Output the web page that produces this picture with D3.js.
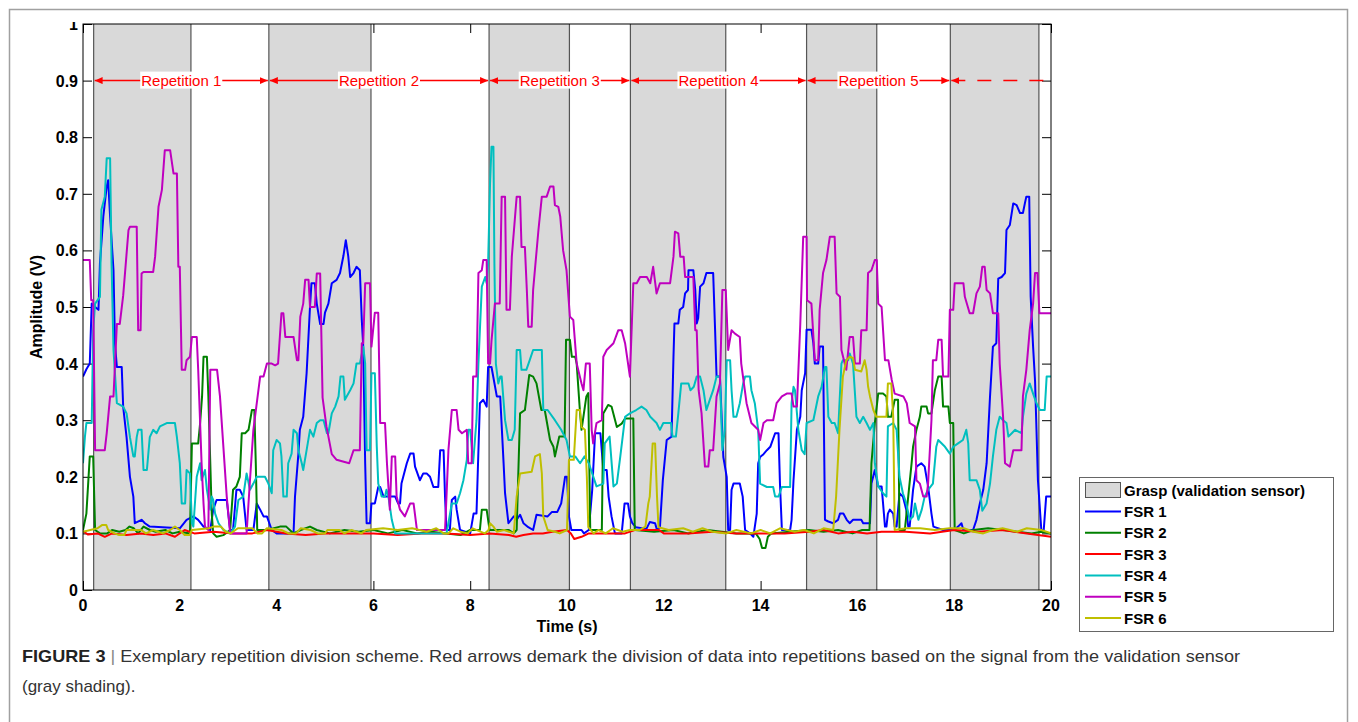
<!DOCTYPE html>
<meta charset="utf-8">
<style>
body { margin: 0; background: #fff; }
svg { display: block; font-family: "Liberation Sans", Arial, sans-serif; }
.tick-label { font-size: 16px; font-weight: bold; fill: #000; }
.axis-title { font-size: 16px; font-weight: bold; fill: #000; }
.legend text { font-size: 15px; font-weight: bold; fill: #000; }
.rep { font-size: 15px; fill: #ff0000; }
.caption { font-size: 17px; fill: #333; }
</style>
<svg width="1358" height="722"></svg>
<script src="https://cdn.jsdelivr.net/npm/d3@7"></script>
<script>

// grasp intervals (validation sensor high), seconds
var grasps = [[0.22, 2.23], [3.84, 5.95], [8.39, 10.05], [11.31, 13.28], [14.95, 16.40], [17.92, 19.75]];
var repLabels = ["Repetition 1", "Repetition 2", "Repetition 3", "Repetition 4", "Repetition 5"];
var xTicks = [0, 2, 4, 6, 8, 10, 12, 14, 16, 18, 20];
var yTicks = [0, 0.1, 0.2, 0.3, 0.4, 0.5, 0.6, 0.7, 0.8, 0.9, 1];
var seriesNames = ["FSR 1", "FSR 2", "FSR 3", "FSR 4", "FSR 5", "FSR 6"];
var seriesColors = ["#0000ff", "#008000", "#ff0000", "#00bfbf", "#bf00bf", "#bfbf00"];

var fsr1 = [[0,0.377],[0.07,0.39],[0.14,0.40],[0.18,0.506],[0.25,0.50],[0.32,0.495],[0.35,0.577],[0.42,0.66],[0.49,0.713],[0.52,0.724],[0.56,0.66],[0.63,0.565],[0.66,0.436],[0.7,0.394],[0.8,0.394],[0.83,0.324],[0.9,0.27],[0.97,0.2],[1.04,0.165],[1.07,0.118],[1.21,0.124],[1.28,0.118],[1.38,0.112],[2.0,0.109],[2.14,0.124],[2.28,0.13],[2.38,0.124],[2.49,0.112],[2.63,0.106],[2.69,0.142],[2.76,0.159],[2.97,0.159],[3.04,0.106],[3.1,0.106],[3.17,0.177],[3.24,0.177],[3.31,0.165],[3.38,0.106],[3.52,0.106],[3.59,0.153],[3.66,0.142],[3.73,0.13],[3.8,0.13],[3.9,0.106],[4.0,0.10],[4.35,0.10],[4.38,0.165],[4.45,0.24],[4.48,0.283],[4.55,0.306],[4.62,0.383],[4.69,0.5],[4.72,0.542],[4.79,0.542],[4.83,0.506],[4.9,0.47],[4.97,0.47],[5.0,0.49],[5.07,0.506],[5.14,0.542],[5.24,0.548],[5.31,0.56],[5.38,0.59],[5.43,0.618],[5.48,0.59],[5.52,0.553],[5.59,0.56],[5.65,0.571],[5.72,0.565],[5.76,0.477],[5.79,0.43],[5.83,0.224],[5.86,0.118],[5.93,0.118],[5.96,0.153],[6.03,0.153],[6.1,0.182],[6.14,0.182],[6.21,0.165],[6.45,0.165],[6.51,0.153],[6.55,0.153],[6.58,0.188],[6.69,0.224],[6.76,0.241],[6.83,0.241],[6.86,0.218],[6.96,0.194],[7.03,0.206],[7.1,0.206],[7.17,0.2],[7.24,0.182],[7.34,0.182],[7.38,0.247],[7.45,0.247],[7.48,0.165],[7.51,0.106],[7.58,0.106],[7.62,0.159],[7.69,0.165],[7.72,0.142],[7.79,0.106],[8.0,0.10],[8.07,0.135],[8.13,0.135],[8.2,0.33],[8.27,0.336],[8.34,0.324],[8.37,0.394],[8.44,0.394],[8.55,0.342],[8.62,0.342],[8.69,0.224],[8.72,0.171],[8.79,0.118],[8.9,0.13],[8.96,0.124],[9.03,0.133],[9.1,0.118],[9.2,0.111],[9.3,0.106],[9.37,0.133],[9.6,0.13],[9.69,0.138],[9.8,0.138],[9.88,0.153],[9.96,0.2],[10.0,0.2],[10.04,0.13],[10.09,0.106],[10.3,0.106],[10.35,0.1],[10.45,0.106],[10.52,0.176],[10.58,0.277],[10.69,0.277],[10.75,0.212],[10.82,0.212],[10.86,0.165],[10.92,0.13],[10.99,0.1],[11.13,0.1],[11.19,0.153],[11.26,0.153],[11.3,0.13],[11.35,0.118],[11.42,0.111],[11.64,0.108],[11.71,0.12],[11.82,0.118],[11.86,0.106],[11.92,0.111],[11.98,0.194],[12.06,0.265],[12.16,0.271],[12.2,0.412],[12.22,0.471],[12.3,0.471],[12.33,0.495],[12.4,0.5],[12.44,0.524],[12.5,0.53],[12.51,0.565],[12.61,0.565],[12.65,0.53],[12.68,0.471],[12.71,0.48],[12.75,0.536],[12.82,0.542],[12.88,0.56],[13.02,0.56],[13.06,0.459],[13.09,0.377],[13.16,0.377],[13.23,0.235],[13.3,0.2],[13.33,0.106],[13.37,0.106],[13.4,0.177],[13.44,0.188],[13.57,0.188],[13.63,0.165],[13.68,0.106],[13.78,0.1],[13.85,0.094],[13.92,0.135],[13.95,0.224],[13.99,0.235],[14.06,0.24],[14.13,0.247],[14.2,0.253],[14.3,0.277],[14.37,0.277],[14.4,0.188],[14.44,0.106],[14.61,0.106],[14.64,0.124],[14.68,0.194],[14.75,0.283],[14.82,0.306],[14.85,0.353],[14.92,0.383],[14.95,0.46],[15.05,0.46],[15.09,0.436],[15.12,0.40],[15.19,0.40],[15.22,0.43],[15.29,0.43],[15.33,0.124],[15.4,0.121],[15.5,0.118],[15.6,0.124],[15.64,0.135],[15.71,0.135],[15.78,0.124],[15.84,0.118],[15.91,0.124],[16.08,0.124],[16.12,0.118],[16.26,0.118],[16.29,0.188],[16.36,0.212],[16.43,0.183],[16.5,0.183],[16.53,0.153],[16.57,0.112],[16.6,0.112],[16.63,0.135],[16.67,0.142],[16.74,0.135],[16.77,0.112],[16.81,0.112],[16.87,0.171],[16.94,0.165],[17.01,0.142],[17.05,0.112],[17.08,0.112],[17.15,0.177],[17.22,0.218],[17.32,0.224],[17.39,0.218],[17.46,0.183],[17.53,0.135],[17.57,0.112],[17.77,0.106],[18.0,0.106],[18.08,0.112],[18.15,0.118],[18.19,0.106],[18.39,0.106],[18.46,0.124],[18.53,0.153],[18.6,0.177],[18.67,0.224],[18.74,0.342],[18.8,0.43],[18.87,0.436],[18.91,0.55],[18.98,0.553],[19.05,0.56],[19.08,0.636],[19.15,0.645],[19.22,0.683],[19.29,0.68],[19.36,0.666],[19.42,0.666],[19.46,0.683],[19.49,0.695],[19.55,0.695],[19.58,0.518],[19.63,0.43],[19.67,0.37],[19.7,0.283],[19.73,0.194],[19.8,0.106],[19.85,0.106],[19.9,0.165],[20,0.165]];

var fsr2 = [[0,0.106],[0.07,0.135],[0.14,0.236],[0.21,0.236],[0.25,0.106],[0.35,0.1],[0.5,0.1],[0.6,0.106],[0.75,0.103],[0.88,0.106],[0.96,0.112],[1.05,0.109],[1.14,0.1],[1.25,0.112],[1.38,0.106],[1.5,0.103],[1.7,0.106],[1.85,0.1],[2.0,0.103],[2.21,0.1],[2.25,0.259],[2.38,0.259],[2.42,0.295],[2.46,0.342],[2.49,0.412],[2.56,0.412],[2.59,0.342],[2.63,0.224],[2.66,0.135],[2.69,0.1],[2.76,0.094],[2.9,0.097],[3.04,0.106],[3.1,0.177],[3.17,0.183],[3.24,0.2],[3.28,0.277],[3.35,0.277],[3.42,0.283],[3.49,0.318],[3.54,0.318],[3.57,0.224],[3.6,0.106],[3.8,0.106],[4.07,0.112],[4.2,0.112],[4.35,0.1],[4.5,0.106],[4.69,0.112],[4.83,0.106],[5.1,0.1],[5.4,0.106],[5.7,0.103],[6.0,0.106],[6.3,0.1],[6.6,0.106],[6.9,0.1],[7.2,0.103],[7.5,0.1],[7.8,0.097],[8.0,0.106],[8.2,0.106],[8.24,0.142],[8.34,0.142],[8.4,0.106],[8.8,0.106],[8.9,0.1],[8.96,0.106],[9.03,0.312],[9.13,0.318],[9.22,0.38],[9.3,0.377],[9.37,0.365],[9.47,0.318],[9.54,0.318],[9.65,0.265],[9.72,0.253],[9.75,0.236],[9.84,0.271],[9.95,0.271],[9.98,0.442],[10.06,0.442],[10.1,0.412],[10.17,0.412],[10.2,0.4],[10.27,0.312],[10.3,0.283],[10.4,0.342],[10.44,0.348],[10.48,0.106],[10.72,0.106],[10.75,0.312],[10.85,0.327],[10.92,0.324],[11.03,0.288],[11.13,0.294],[11.2,0.303],[11.37,0.303],[11.4,0.106],[11.8,0.103],[12.2,0.106],[12.5,0.1],[12.9,0.106],[13.2,0.103],[13.5,0.1],[13.9,0.1],[13.98,0.09],[14.03,0.074],[14.1,0.074],[14.15,0.094],[14.22,0.1],[14.6,0.103],[15.0,0.106],[15.3,0.103],[15.6,0.106],[15.9,0.1],[16.1,0.106],[16.25,0.106],[16.29,0.224],[16.36,0.295],[16.43,0.347],[16.53,0.347],[16.6,0.342],[16.63,0.306],[16.7,0.306],[16.77,0.336],[16.84,0.336],[16.87,0.106],[16.98,0.106],[17.05,0.165],[17.12,0.224],[17.15,0.253],[17.22,0.283],[17.29,0.306],[17.32,0.324],[17.43,0.324],[17.46,0.312],[17.53,0.312],[17.6,0.353],[17.67,0.377],[17.74,0.377],[17.77,0.324],[17.88,0.324],[17.91,0.295],[17.98,0.295],[18.01,0.106],[18.2,0.1],[18.4,0.106],[18.7,0.109],[19.0,0.106],[19.3,0.103],[19.6,0.1],[19.8,0.103],[20,0.1]];

var fsr3 = [[0,0.104],[0.1,0.098],[0.3,0.1],[0.45,0.094],[0.6,0.1],[0.9,0.097],[1.2,0.1],[1.45,0.097],[1.7,0.1],[1.9,0.094],[2.1,0.106],[2.3,0.1],[2.7,0.103],[3.1,0.1],[3.5,0.1],[3.8,0.106],[4.2,0.1],[4.6,0.097],[5.0,0.1],[5.5,0.1],[6.0,0.1],[6.5,0.097],[7.0,0.1],[7.5,0.1],[8.0,0.097],[8.4,0.1],[8.8,0.097],[8.95,0.094],[9.1,0.097],[9.3,0.1],[9.5,0.1],[9.7,0.103],[10.0,0.106],[10.08,0.1],[10.15,0.09],[10.3,0.094],[10.45,0.1],[10.8,0.1],[11.2,0.1],[11.4,0.106],[11.9,0.106],[12.0,0.1],[12.5,0.1],[13.0,0.103],[13.5,0.1],[14.0,0.1],[14.5,0.1],[15.0,0.103],[15.3,0.106],[15.6,0.1],[15.9,0.103],[16.2,0.1],[16.5,0.103],[17.0,0.103],[17.5,0.1],[18.0,0.106],[18.5,0.103],[19.0,0.106],[19.5,0.1],[20,0.094]];

var fsr4 = [[0,0.224],[0.04,0.271],[0.07,0.295],[0.18,0.295],[0.21,0.459],[0.25,0.506],[0.35,0.518],[0.38,0.672],[0.45,0.695],[0.49,0.763],[0.56,0.763],[0.59,0.577],[0.63,0.424],[0.7,0.33],[0.83,0.324],[0.9,0.312],[0.97,0.27],[1.04,0.236],[1.07,0.236],[1.11,0.27],[1.14,0.283],[1.21,0.283],[1.25,0.212],[1.32,0.212],[1.38,0.27],[1.45,0.283],[1.52,0.277],[1.59,0.289],[1.73,0.295],[1.9,0.295],[1.94,0.27],[2.0,0.224],[2.04,0.153],[2.11,0.153],[2.14,0.212],[2.21,0.206],[2.25,0.118],[2.28,0.112],[2.35,0.2],[2.42,0.224],[2.45,0.194],[2.52,0.212],[2.56,0.177],[2.63,0.142],[2.66,0.165],[2.69,0.159],[2.73,0.135],[2.8,0.118],[2.9,0.106],[3.04,0.1],[3.14,0.112],[3.21,0.159],[3.31,0.165],[3.38,0.206],[3.45,0.177],[3.52,0.188],[3.59,0.2],[3.76,0.2],[3.83,0.188],[3.9,0.171],[3.93,0.247],[4.0,0.265],[4.07,0.259],[4.1,0.236],[4.14,0.165],[4.21,0.165],[4.24,0.224],[4.31,0.241],[4.35,0.283],[4.42,0.277],[4.45,0.247],[4.52,0.224],[4.55,0.212],[4.62,0.247],[4.69,0.283],[4.76,0.271],[4.83,0.295],[4.9,0.30],[4.97,0.3],[5.04,0.277],[5.07,0.277],[5.14,0.312],[5.21,0.324],[5.28,0.342],[5.32,0.377],[5.38,0.377],[5.41,0.336],[5.52,0.353],[5.59,0.365],[5.65,0.4],[5.72,0.4],[5.79,0.43],[5.83,0.4],[5.86,0.247],[5.93,0.247],[5.96,0.383],[6.03,0.383],[6.07,0.253],[6.1,0.188],[6.17,0.165],[6.24,0.165],[6.27,0.177],[6.31,0.165],[6.38,0.124],[6.45,0.1],[7.51,0.1],[7.55,0.118],[7.62,0.153],[7.72,0.153],[7.79,0.171],[7.86,0.194],[7.93,0.23],[7.96,0.283],[8.0,0.283],[8.06,0.224],[8.13,0.3],[8.17,0.4],[8.2,0.459],[8.24,0.536],[8.31,0.553],[8.34,0.542],[8.37,0.577],[8.41,0.718],[8.44,0.783],[8.48,0.783],[8.5,0.577],[8.53,0.4],[8.58,0.365],[8.62,0.377],[8.65,0.377],[8.72,0.3],[8.79,0.265],[8.86,0.265],[8.92,0.283],[8.96,0.424],[9.03,0.424],[9.06,0.389],[9.16,0.389],[9.23,0.406],[9.3,0.424],[9.48,0.424],[9.51,0.318],[9.6,0.318],[9.75,0.3],[9.88,0.283],[9.99,0.265],[10.06,0.236],[10.17,0.236],[10.27,0.224],[10.36,0.236],[10.45,0.224],[10.52,0.206],[10.61,0.183],[10.75,0.188],[10.78,0.259],[10.88,0.271],[10.96,0.183],[11.03,0.188],[11.1,0.235],[11.2,0.306],[11.3,0.312],[11.43,0.318],[11.54,0.324],[11.64,0.318],[11.72,0.306],[11.85,0.295],[11.92,0.283],[11.99,0.295],[12.15,0.295],[12.18,0.271],[12.25,0.271],[12.3,0.312],[12.36,0.365],[12.51,0.365],[12.55,0.353],[12.62,0.359],[12.68,0.377],[12.75,0.377],[12.82,0.353],[12.88,0.318],[12.95,0.336],[13.02,0.353],[13.09,0.377],[13.16,0.377],[13.21,0.247],[13.26,0.283],[13.3,0.406],[13.37,0.406],[13.4,0.353],[13.44,0.306],[13.5,0.306],[13.57,0.33],[13.64,0.365],[13.68,0.377],[13.78,0.377],[13.81,0.353],[13.88,0.33],[13.95,0.283],[13.99,0.188],[14.13,0.182],[14.26,0.182],[14.3,0.165],[14.37,0.165],[14.44,0.182],[14.61,0.182],[14.64,0.33],[14.68,0.359],[14.71,0.353],[14.78,0.283],[14.85,0.247],[14.91,0.24],[14.95,0.295],[15.09,0.30],[15.19,0.342],[15.26,0.359],[15.33,0.394],[15.36,0.394],[15.4,0.306],[15.47,0.295],[15.53,0.295],[15.6,0.277],[15.67,0.4],[15.7,0.406],[15.81,0.406],[15.84,0.418],[15.91,0.4],[15.98,0.306],[16.05,0.295],[16.12,0.306],[16.19,0.295],[16.26,0.283],[16.33,0.295],[16.36,0.224],[16.43,0.183],[16.53,0.171],[16.6,0.165],[16.63,0.289],[16.74,0.295],[16.81,0.283],[16.87,0.2],[16.94,0.171],[17.01,0.153],[17.08,0.124],[17.15,0.13],[17.19,0.153],[17.26,0.124],[17.33,0.142],[17.39,0.165],[17.46,0.177],[17.56,0.188],[17.63,0.253],[17.67,0.265],[17.81,0.253],[17.91,0.241],[17.98,0.253],[18.08,0.259],[18.18,0.265],[18.25,0.283],[18.29,0.259],[18.32,0.194],[18.46,0.194],[18.53,0.177],[18.58,0.14],[18.67,0.153],[18.74,0.188],[18.8,0.236],[18.87,0.283],[18.94,0.306],[19.01,0.3],[19.08,0.295],[19.12,0.271],[19.19,0.277],[19.26,0.283],[19.39,0.277],[19.42,0.306],[19.49,0.347],[19.56,0.365],[19.63,0.347],[19.7,0.33],[19.77,0.318],[19.87,0.318],[19.91,0.377],[20,0.377]];

var fsr5 = [[0,0.583],[0.14,0.583],[0.17,0.512],[0.21,0.512],[0.25,0.247],[0.45,0.247],[0.49,0.277],[0.56,0.342],[0.63,0.342],[0.7,0.47],[0.76,0.47],[0.83,0.52],[0.94,0.636],[0.97,0.642],[1.11,0.642],[1.14,0.459],[1.19,0.459],[1.21,0.559],[1.25,0.562],[1.45,0.562],[1.49,0.589],[1.56,0.677],[1.63,0.707],[1.69,0.777],[1.8,0.777],[1.87,0.736],[1.94,0.736],[1.97,0.571],[2.0,0.571],[2.04,0.389],[2.11,0.389],[2.14,0.406],[2.21,0.412],[2.25,0.447],[2.35,0.447],[2.38,0.389],[2.45,0.224],[2.49,0.153],[2.52,0.112],[2.59,0.106],[2.63,0.389],[2.77,0.389],[2.83,0.342],[2.97,0.165],[3.04,0.10],[3.38,0.10],[3.45,0.194],[3.52,0.283],[3.66,0.377],[3.73,0.377],[3.8,0.4],[3.9,0.4],[3.97,0.397],[4.03,0.4],[4.1,0.489],[4.14,0.489],[4.18,0.447],[4.35,0.447],[4.42,0.406],[4.45,0.406],[4.49,0.483],[4.55,0.506],[4.59,0.548],[4.66,0.548],[4.69,0.5],[4.79,0.5],[4.83,0.559],[4.9,0.559],[4.95,0.34],[5.03,0.289],[5.14,0.24],[5.24,0.23],[5.5,0.224],[5.59,0.247],[5.72,0.247],[5.76,0.436],[5.79,0.436],[5.83,0.542],[5.93,0.542],[5.96,0.43],[6.03,0.49],[6.1,0.49],[6.14,0.295],[6.24,0.295],[6.28,0.224],[6.34,0.142],[6.38,0.236],[6.45,0.236],[6.48,0.165],[6.55,0.142],[6.65,0.13],[6.76,0.153],[6.83,0.153],[6.9,0.106],[7.48,0.106],[7.51,0.165],[7.55,0.247],[7.62,0.318],[7.72,0.318],[7.76,0.283],[7.83,0.277],[7.93,0.283],[7.96,0.224],[8.03,0.224],[8.06,0.377],[8.13,0.377],[8.17,0.56],[8.24,0.565],[8.27,0.583],[8.34,0.583],[8.37,0.4],[8.41,0.4],[8.44,0.44],[8.51,0.506],[8.61,0.506],[8.65,0.695],[8.72,0.695],[8.75,0.495],[8.82,0.495],[8.86,0.589],[8.96,0.695],[9.03,0.695],[9.06,0.606],[9.13,0.606],[9.17,0.53],[9.2,0.465],[9.27,0.465],[9.3,0.53],[9.41,0.636],[9.48,0.695],[9.58,0.695],[9.65,0.713],[9.72,0.713],[9.75,0.68],[9.82,0.677],[9.86,0.66],[9.92,0.6],[9.99,0.565],[10.06,0.483],[10.13,0.477],[10.2,0.4],[10.3,0.365],[10.34,0.353],[10.39,0.4],[10.47,0.4],[10.51,0.283],[10.54,0.259],[10.61,0.295],[10.72,0.30],[10.75,0.412],[10.82,0.424],[10.96,0.436],[11.06,0.459],[11.13,0.459],[11.2,0.436],[11.3,0.377],[11.37,0.542],[11.44,0.542],[11.51,0.553],[11.65,0.553],[11.72,0.542],[11.78,0.571],[11.85,0.524],[11.92,0.542],[12.13,0.542],[12.2,0.589],[12.23,0.633],[12.3,0.63],[12.34,0.589],[12.41,0.589],[12.44,0.553],[12.61,0.553],[12.65,0.459],[12.68,0.459],[12.72,0.353],[12.78,0.312],[12.85,0.218],[12.92,0.218],[12.95,0.247],[13.02,0.247],[13.09,0.342],[13.16,0.365],[13.21,0.53],[13.28,0.53],[13.33,0.424],[13.4,0.459],[13.47,0.453],[13.57,0.447],[13.6,0.4],[13.71,0.33],[13.81,0.295],[13.95,0.283],[13.99,0.265],[14.06,0.295],[14.13,0.30],[14.26,0.30],[14.33,0.33],[14.44,0.342],[14.54,0.347],[14.64,0.347],[14.68,0.324],[14.75,0.324],[14.82,0.47],[14.88,0.624],[14.95,0.624],[14.96,0.512],[15.05,0.506],[15.12,0.406],[15.19,0.406],[15.22,0.495],[15.29,0.56],[15.36,0.583],[15.43,0.624],[15.53,0.624],[15.57,0.524],[15.64,0.518],[15.67,0.424],[15.77,0.389],[15.84,0.447],[15.91,0.447],[15.95,0.40],[16.05,0.40],[16.08,0.459],[16.19,0.459],[16.22,0.56],[16.29,0.565],[16.36,0.583],[16.4,0.583],[16.43,0.506],[16.5,0.5],[16.57,0.406],[16.64,0.406],[16.71,0.371],[16.77,0.347],[16.95,0.342],[17.02,0.33],[17.08,0.295],[17.19,0.289],[17.22,0.194],[17.29,0.188],[17.36,0.165],[17.43,0.165],[17.46,0.188],[17.53,0.3],[17.56,0.406],[17.63,0.406],[17.67,0.442],[17.74,0.442],[17.77,0.377],[17.88,0.377],[17.91,0.495],[17.98,0.495],[18.01,0.542],[18.19,0.542],[18.22,0.518],[18.32,0.489],[18.39,0.489],[18.46,0.524],[18.53,0.536],[18.58,0.571],[18.63,0.571],[18.67,0.53],[18.74,0.524],[18.8,0.489],[18.91,0.489],[18.94,0.40],[19.01,0.306],[19.05,0.224],[19.15,0.218],[19.22,0.247],[19.39,0.247],[19.42,0.342],[19.49,0.389],[19.56,0.459],[19.63,0.506],[19.67,0.56],[19.72,0.56],[19.76,0.489],[20,0.489]];

var fsr6 = [[0,0.103],[0.15,0.106],[0.3,0.109],[0.4,0.115],[0.48,0.115],[0.52,0.106],[0.65,0.1],[0.75,0.097],[0.85,0.097],[0.9,0.106],[1.2,0.106],[1.3,0.1],[1.45,0.106],[1.65,0.1],[1.8,0.106],[1.9,0.112],[2.0,0.106],[2.1,0.097],[2.2,0.097],[2.25,0.106],[2.6,0.109],[2.7,0.112],[2.85,0.112],[2.95,0.103],[3.05,0.1],[3.2,0.109],[3.5,0.109],[3.6,0.1],[3.7,0.1],[3.8,0.109],[4.1,0.106],[4.25,0.1],[4.4,0.1],[4.5,0.109],[4.7,0.106],[4.85,0.1],[5.0,0.1],[5.05,0.106],[5.3,0.106],[5.4,0.1],[5.55,0.106],[5.75,0.1],[5.85,0.106],[6.2,0.109],[6.5,0.106],[6.8,0.109],[7.1,0.103],[7.3,0.109],[7.45,0.1],[7.55,0.1],[7.65,0.109],[7.8,0.103],[7.95,0.1],[8.05,0.109],[8.3,0.1],[8.38,0.106],[8.41,0.118],[8.48,0.112],[8.55,0.103],[8.7,0.106],[8.9,0.1],[8.96,0.165],[9.03,0.206],[9.27,0.209],[9.34,0.236],[9.44,0.24],[9.48,0.206],[9.51,0.13],[9.6,0.106],[9.75,0.103],[9.85,0.1],[10.0,0.106],[10.04,0.23],[10.14,0.23],[10.2,0.318],[10.27,0.318],[10.3,0.288],[10.37,0.283],[10.41,0.2],[10.44,0.111],[10.55,0.1],[10.65,0.106],[10.8,0.1],[10.95,0.109],[11.15,0.103],[11.3,0.106],[11.5,0.106],[11.62,0.112],[11.68,0.153],[11.71,0.165],[11.77,0.259],[11.82,0.259],[11.86,0.165],[11.89,0.111],[12.1,0.106],[12.4,0.109],[12.6,0.103],[12.8,0.109],[13.0,0.103],[13.3,0.1],[13.5,0.106],[13.8,0.1],[14.0,0.106],[14.2,0.1],[14.4,0.109],[14.7,0.103],[14.9,0.106],[15.1,0.1],[15.3,0.109],[15.5,0.106],[15.56,0.165],[15.63,0.283],[15.7,0.377],[15.77,0.406],[15.84,0.412],[15.91,0.41],[15.95,0.389],[16.08,0.386],[16.15,0.406],[16.19,0.389],[16.22,0.36],[16.26,0.342],[16.33,0.318],[16.39,0.306],[16.6,0.306],[16.63,0.365],[16.7,0.365],[16.74,0.306],[16.77,0.106],[17.0,0.109],[17.3,0.109],[17.6,0.106],[17.9,0.109],[18.2,0.109],[18.4,0.103],[18.6,0.1],[18.8,0.106],[19.0,0.109],[19.3,0.103],[19.5,0.109],[19.8,0.106],[20,0.1]];

var series = [fsr1, fsr2, fsr3, fsr4, fsr5, fsr6];

var svg = d3.select("svg");
var plotL = 83, plotR = 1051, plotT = 24, plotB = 590;

var x = d3.scaleLinear().domain([0, 20]).range([plotL, plotR]);
var y = d3.scaleLinear().domain([0, 1]).range([plotB, plotT]);

// outer figure frame
svg.append("rect")
    .attr("x", 9.5).attr("y", 9.5)
    .attr("width", 1338).attr("height", 780)
    .attr("fill", "none")
    .attr("stroke", "#a0a0a0")
    .attr("stroke-width", 1.5);

svg.append("clipPath").attr("id", "plot")
  .append("rect")
    .attr("x", plotL).attr("y", plotT)
    .attr("width", plotR - plotL).attr("height", plotB - plotT);

svg.append("clipPath").attr("id", "cut")
  .append("rect")
    .attr("x", 0).attr("y", 22)
    .attr("width", 1358).attr("height", 700);

// inward ticks on all four sides (drawn first, the grasp area covers them)
svg.append("g").attr("transform", "translate(0," + plotB + ")")
    .call(d3.axisBottom(x).tickValues(xTicks).tickSize(-9).tickFormat(""));
svg.append("g").attr("transform", "translate(0," + plotT + ")")
    .call(d3.axisTop(x).tickValues(xTicks).tickSize(-9).tickFormat(""));
svg.append("g").attr("transform", "translate(" + plotL + ",0)")
    .call(d3.axisLeft(y).tickValues(yTicks).tickSize(-9).tickFormat(""));
svg.append("g").attr("transform", "translate(" + plotR + ",0)")
    .call(d3.axisRight(y).tickValues(yTicks).tickSize(-9).tickFormat(""));
svg.selectAll(".domain").remove();
svg.selectAll(".tick line").attr("stroke", "#000");

// validation sensor as a square wave
var valid = [[0, 0]];
grasps.forEach(function(g) {
  valid.push([g[0], 0], [g[0], 1], [g[1], 1], [g[1], 0]);
});
valid.push([20, 0]);

svg.append("path")
    .datum(valid)
    .attr("fill", "#d9d9d9")
    .attr("d", d3.area().x(function(d) { return x(d[0]); }).y0(y(0)).y1(function(d) { return y(d[1]); }));

svg.append("g")
    .selectAll("line")
    .data(d3.merge(grasps))
  .enter().append("line")
    .attr("x1", function(d) { return x(d); })
    .attr("x2", function(d) { return x(d); })
    .attr("y1", y(0)).attr("y2", y(1))
    .attr("stroke", "#555")
    .attr("stroke-width", 1.2);

var line = d3.line()
    .x(function(d) { return x(d[0]); })
    .y(function(d) { return y(d[1]); });

svg.append("g")
    .attr("clip-path", "url(#plot)")
  .selectAll("path")
  .data(series)
  .enter().append("path")
    .attr("fill", "none")
    .attr("stroke", function(d, i) { return seriesColors[i]; })
    .attr("stroke-width", 2)
    .attr("stroke-linejoin", "round")
    .attr("d", line);

// box
svg.append("rect")
    .attr("x", plotL).attr("y", plotT)
    .attr("width", plotR - plotL).attr("height", plotB - plotT)
    .attr("fill", "none")
    .attr("stroke", "#000")
    .attr("stroke-width", 1);

// tick labels
svg.append("g").selectAll("text")
    .data(xTicks)
  .enter().append("text")
    .attr("class", "tick-label")
    .attr("x", function(d) { return x(d); })
    .attr("y", plotB + 21)
    .attr("text-anchor", "middle")
    .text(function(d) { return d; });

svg.append("g").attr("clip-path", "url(#cut)").selectAll("text")
    .data(yTicks)
  .enter().append("text")
    .attr("class", "tick-label")
    .attr("x", plotL - 5)
    .attr("y", function(d) { return y(d) + 6; })
    .attr("text-anchor", "end")
    .text(function(d) { return d; });

svg.append("text")
    .attr("class", "axis-title")
    .attr("x", (plotL + plotR) / 2)
    .attr("y", plotB + 42)
    .attr("text-anchor", "middle")
    .text("Time (s)");

svg.append("text")
    .attr("class", "axis-title")
    .attr("transform", "translate(42," + (plotT + plotB) / 2 + ") rotate(-90)")
    .attr("text-anchor", "middle")
    .text("Amplitude (V)");

// repetition arrows
var defs = svg.append("defs");
defs.append("marker")
    .attr("id", "arrow")
    .attr("viewBox", "0 0 8 7")
    .attr("refX", 8).attr("refY", 3.5)
    .attr("markerWidth", 8).attr("markerHeight", 7)
    .attr("markerUnits", "userSpaceOnUse")
    .attr("orient", "auto-start-reverse")
  .append("path")
    .attr("d", "M0,0L8,3.5L0,7Z")
    .attr("fill", "#ff0000");

var starts = grasps.map(function(g) { return g[0]; });
var repLines = svg.append("g");
var repBoxes = svg.append("g");
var repTexts = svg.append("g");
var yr = y(0.9);

starts.forEach(function(s, i) {
  var e = i < starts.length - 1 ? starts[i + 1] : 20;
  var last = i === starts.length - 1;
  var p = repLines.append("line")
      .attr("x1", x(s) + 1).attr("x2", last ? x(e) : x(e) - 1)
      .attr("y1", yr).attr("y2", yr)
      .attr("stroke", "#ff0000")
      .attr("stroke-width", 1.5)
      .attr("marker-start", "url(#arrow)");
  if (last) {
    p.attr("stroke-dasharray", "14,12");
  } else {
    p.attr("marker-end", "url(#arrow)");
    var t = repTexts.append("text")
        .attr("class", "rep")
        .attr("x", (x(s) + x(e)) / 2)
        .attr("y", yr + 5)
        .attr("text-anchor", "middle")
        .text(repLabels[i]);
    var b = t.node().getBBox();
    repBoxes.append("rect")
        .attr("x", b.x - 1).attr("y", b.y)
        .attr("width", b.width + 2).attr("height", b.height)
        .attr("fill", "#fff");
  }
});

// legend
var lg = svg.append("g").attr("class", "legend");
lg.append("rect")
    .attr("x", 1079.5).attr("y", 477.5)
    .attr("width", 254).attr("height", 154)
    .attr("fill", "#fff")
    .attr("stroke", "#666");
lg.append("rect")
    .attr("x", 1085.5).attr("y", 482.5)
    .attr("width", 35).attr("height", 15)
    .attr("fill", "#d9d9d9")
    .attr("stroke", "#555");
lg.append("text")
    .attr("x", 1124).attr("y", 495.5)
    .text("Grasp (validation sensor)");

var rows = lg.selectAll(".row")
    .data(seriesNames)
  .enter().append("g")
    .attr("transform", function(d, i) { return "translate(0," + (511.5 + i * 21.3) + ")"; });
rows.append("line")
    .attr("x1", 1085).attr("x2", 1121)
    .attr("stroke", function(d, i) { return seriesColors[i]; })
    .attr("stroke-width", 2);
rows.append("text")
    .attr("x", 1124).attr("y", 5.5)
    .text(function(d) { return d; });

// caption
var cap = svg.append("text")
    .attr("class", "caption")
    .attr("x", 22).attr("y", 662);
cap.append("tspan").attr("font-weight", "bold").attr("fill", "#222").text("FIGURE 3");
cap.append("tspan").attr("fill", "#888").text(" | ");
cap.append("tspan").text("Exemplary repetition division scheme. Red arrows demark the division of data into repetitions based on the signal from the validation sensor");
cap.attr("textLength", 1218).attr("lengthAdjust", "spacingAndGlyphs");

svg.append("text")
    .attr("class", "caption")
    .attr("x", 22).attr("y", 692)
    .text("(gray shading).");

</script>
